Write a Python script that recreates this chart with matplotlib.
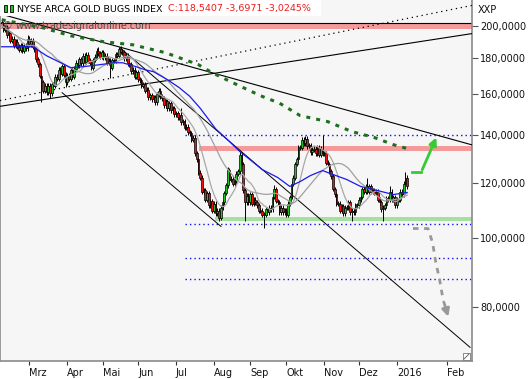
#!/usr/bin/env python3
# Wykres świecowy NYSE ARCA GOLD BUGS INDEX (luty 2015 - styczeń 2016) z liniami trendu.
import numpy as np
import pandas as pd
import matplotlib
matplotlib.use("Agg")
import matplotlib.pyplot as plt
from matplotlib.patches import Rectangle
from matplotlib.ticker import FixedLocator, NullLocator

W, H = 528, 379

# Kursy zamknięcia (sesje od początku lutego 2015).
CLOSE = [
    200.8, 197.5, 199.0, 194.0, 195.5, 190.5, 192.0, 187.5, 190.0, 187.0,
    185.0, 188.0, 184.5, 187.5, 186.0, 192.0, 188.5, 190.5, 187.0, 185.5,
    179.5, 176.5, 170.0, 166.5, 162.0, 164.5, 161.0, 164.5, 160.5, 165.5,
    164.5, 169.5, 168.5, 173.5, 171.0, 175.5, 170.5, 166.5, 170.0, 168.5,
    173.5, 169.5, 174.0, 177.5, 176.0, 179.5, 177.0, 181.5, 178.0, 182.0,
    178.5, 177.5, 174.5, 179.0, 181.0, 184.5, 183.0, 181.0, 183.5, 180.5,
    181.5, 177.5, 178.5, 174.5, 179.0, 178.5, 182.5, 181.5, 185.5, 184.0,
    183.5, 180.0, 181.5, 177.0, 176.5, 172.5, 173.5, 169.5, 172.0, 168.0,
    167.5, 164.5, 165.5, 162.0, 162.5, 158.5, 159.5, 157.5, 158.5, 156.0,
    160.0, 162.0, 159.0, 158.0, 154.5, 156.5, 153.0, 155.5, 152.0, 153.0,
    150.0, 150.5, 148.5, 149.5, 146.0, 146.5, 143.5, 144.0, 141.5, 141.0,
    138.0, 139.0, 132.0, 129.5, 124.0, 122.0, 116.5, 117.0, 113.5, 116.0,
    111.5, 113.0, 109.5, 112.0, 108.5, 109.5, 107.0, 110.5, 112.5, 116.0,
    119.0, 125.0, 121.0, 121.5, 119.5, 120.5, 123.5, 124.5, 131.5, 127.5,
    117.0, 112.5, 115.0, 112.5, 115.5, 112.0, 113.5, 112.5, 111.5, 109.5,
    109.5, 108.0, 108.0, 110.0, 109.0, 110.5, 110.0, 114.5, 117.5, 113.0,
    112.5, 109.0, 110.5, 109.0, 109.5, 108.0, 112.0, 114.5, 119.5, 122.0,
    127.5, 129.5, 134.5, 134.5, 138.0, 136.5, 138.5, 135.0, 135.5, 132.5,
    133.5, 134.0, 132.0, 134.5, 131.5, 134.0, 132.0, 132.0, 128.0, 127.5,
    124.5, 122.5, 117.5, 115.5, 112.0, 112.0, 109.5, 111.0, 108.5, 110.5,
    110.5, 112.5, 109.0, 109.5, 109.0, 111.5, 111.5, 113.5, 114.5, 117.5,
    116.5, 118.5, 116.5, 118.5, 116.5, 117.0, 116.0, 116.5, 113.5, 112.5,
    110.0, 110.5, 111.5, 114.0, 113.5, 116.5, 113.5, 114.5, 111.5, 113.5,
    113.5, 116.5, 115.5, 119.5, 122.0, 118.5407,
]
FIRST_OPEN = 202.5
# Wyraźne knoty (indeks sesji -> wartość).
HIGH_WICKS = {15: 194.4, 56: 186.9, 69: 187.5, 104: 153.2, 131: 126.3, 138: 133.1,
              158: 119.2, 176: 139.5, 186: 140.3, 212: 122.0, 225: 118.5, 234: 124.4}
LOW_WICKS = {23: 156.0, 28: 158.3, 37: 164.0, 63: 169.0, 126: 105.7, 141: 106.0,
             152: 103.6, 203: 105.7, 221: 105.7}
WICK_PAD = 0.008

# Średnia niebieska (punkty).
BLUE_IDX = [0, 9, 18, 26, 33, 40, 47, 57, 65, 70, 78, 83, 88, 96, 103, 109, 115, 119,
            124, 127, 132, 138, 144, 151, 160, 167, 173, 179, 186, 192, 200, 208, 218, 227, 235]
BLUE_VAL = [186.9, 186.9, 186.9, 181.5, 178.0, 174.6, 175.1, 176.3, 177.4, 177.4, 175.1,
            173.4, 172.3, 167.9, 163.5, 159.0, 153.0, 148.5, 143.0, 140.8, 137.2, 132.8,
            129.3, 125.2, 122.0, 118.5, 120.4, 122.8, 124.8, 123.2, 121.2, 118.5, 116.9,
            115.4, 116.2]
# Średnia 200-sesyjna (zielona kropkowana).
G200_IDX = [0, 24, 40, 59, 76, 95, 114, 122, 134, 150, 161, 173, 189, 203, 216, 227, 235]
G200_VAL = [204.1, 198.8, 193.7, 190.0, 188.1, 183.3, 176.3, 171.7, 166.2, 159.3, 155.5,
            149.3, 146.4, 141.7, 139.0, 135.8, 134.1]

# Linie trendu: (indeks0, wartość0, indeks1, wartość1).
LINE_DOWN_LONG = (-0.99, 208.1, 272.6, 135.7)
LINE_UP_SOLID = (-0.99, 153.9, 272.6, 195.1)
LINE_UP_DOTTED = (-0.99, 156.8, 272.6, 213.9)
LINE_CHANNEL_TOP = (68.6, 186.3, 271.5, 70.1)
LINE_CHANNEL_LOW = (35.0, 160.9, 127.1, 104.0)

# Poziomy.
BLUE_LEVELS = [140.0, 104.9, 93.9, 87.7]
BLUE_LEVEL_START = 106.3
RED_TOP = (198.0, 202.0)
RED_MID = (132.9, 135.1)
RED_MID_START = 114.4
GREEN_ZONE = (105.8, 107.3)
GREEN_START = 123.7

# Strzałki scenariuszy.
UP_ARROW_IDX = [237.7, 243.1, 252.6]
UP_ARROW_VAL = [124.1, 124.1, 140.2]
DOWN_ARROW_IDX = [238.4, 247.1, 249.8, 251.6, 253.8, 255.8, 259.3]
DOWN_ARROW_VAL = [103.3, 103.3, 98.5, 92.5, 87.5, 82.0, 76.8]

MONTH_IDX = [16, 38, 59, 79, 101, 123, 144, 165, 187, 207, 229, 258]
MONTH_LBL = ["Mrz", "Apr", "Mai", "Jun", "Jul", "Aug", "Sep", "Okt", "Nov", "Dez", "2016", "Feb"]
Y_TICKS = [80, 100, 120, 140, 160, 180, 200]

X_MIN, X_MAX = -0.99, 272.6

plt.rcParams["font.family"] = ["DejaVu Sans"]


def fx(x):
    return x / W


def fy(y):
    return 1 - y / H


def seg(ax, line, **kw):
    # Rysuje odcinek linii trendu.
    i0, v0, i1, v1 = line
    ax.plot([i0, i1], [v0, v1], **kw)


fig = plt.figure(figsize=(W / 100, H / 100), dpi=100)
fig.patch.set_facecolor("white")
ax = fig.add_axes([0, 18 / H, 472 / W, 361 / H])
ax.set_facecolor("#f6f6f6")
ax.set_yscale("log")
ax.set_xlim(X_MIN, X_MAX)
ax.set_ylim(67.05, 217.7)

# Strefy.
ax.fill_between([X_MIN, X_MAX], RED_TOP[0], RED_TOP[1], color="#f59a9a", lw=0, zorder=1)
ax.plot([X_MIN, X_MAX], [RED_TOP[1], RED_TOP[1]], color="black", lw=0.8, zorder=2)
ax.fill_between([RED_MID_START, X_MAX], RED_MID[0], RED_MID[1], color="#f59a9a", lw=0, zorder=1)
ax.fill_between([GREEN_START, X_MAX], GREEN_ZONE[0], GREEN_ZONE[1], color="#a6e0a0", lw=0, zorder=1)
for lvl in BLUE_LEVELS:
    ax.plot([BLUE_LEVEL_START, X_MAX], [lvl, lvl], color="#1010ee", lw=1.0,
            linestyle=(0, (1, 2.2)), zorder=2)

# Linie trendu.
seg(ax, LINE_DOWN_LONG, color="black", lw=0.8, zorder=3)
seg(ax, LINE_UP_SOLID, color="black", lw=0.8, zorder=3)
seg(ax, LINE_UP_DOTTED, color="black", lw=0.9, linestyle=(0, (1, 3)), zorder=3)
seg(ax, LINE_CHANNEL_TOP, color="black", lw=0.7, zorder=3)
seg(ax, LINE_CHANNEL_LOW, color="black", lw=0.7, zorder=3)

# Świece.
close = np.array(CLOSE)
opn = np.r_[FIRST_OPEN, close[:-1]]
hi = np.maximum(opn, close) * (1 + WICK_PAD)
lo = np.minimum(opn, close) * (1 - WICK_PAD)
for k, v in HIGH_WICKS.items():
    hi[k] = max(v, hi[k])
for k, v in LOW_WICKS.items():
    lo[k] = min(v, lo[k])
idx = np.arange(len(close))
up = close >= opn
ax.vlines(idx, lo, hi, color="black", lw=0.7, zorder=4)
bottom = np.minimum(opn, close)
height = np.maximum(np.abs(close - opn), bottom * 0.003)
ax.bar(idx, height, bottom=bottom, width=1.0, color=np.where(up, "#22c022", "#ee1111"),
       edgecolor="black", linewidth=0.5, zorder=5)

# Średnie kroczące.
s = pd.Series(close)
ax.plot(idx, s.rolling(10, min_periods=1).mean(), color="#a8a8a8", lw=0.9, zorder=6)
ax.plot(idx, s.rolling(30, min_periods=1).mean(), color="#a0a0a0", lw=0.9, zorder=6)
ax.plot(BLUE_IDX, BLUE_VAL, color="#1a1aee", lw=0.9, zorder=6)
ax.plot(G200_IDX, G200_VAL, color="#1e6e1e", lw=2.2, linestyle=(0, (1.3, 2.0)), zorder=6)

# Strzałki.
ax.plot(UP_ARROW_IDX[:2], UP_ARROW_VAL[:2], color="#33cc33", lw=2, zorder=7)
ax.annotate("", xy=(UP_ARROW_IDX[2], UP_ARROW_VAL[2]), xytext=(UP_ARROW_IDX[1], UP_ARROW_VAL[1]),
            arrowprops=dict(arrowstyle="-|>", color="#33cc33", lw=2, mutation_scale=11), zorder=7)
ax.plot(DOWN_ARROW_IDX[:-1], DOWN_ARROW_VAL[:-1], color="#999999", lw=2,
        linestyle=(0, (2, 2)), zorder=7)
ax.annotate("", xy=(DOWN_ARROW_IDX[-1], DOWN_ARROW_VAL[-1]),
            xytext=(DOWN_ARROW_IDX[-2], DOWN_ARROW_VAL[-2]),
            arrowprops=dict(arrowstyle="-|>", color="#999999", lw=2, mutation_scale=11), zorder=7)

# Osie.
ax.yaxis.tick_right()
ax.yaxis.set_major_locator(FixedLocator(Y_TICKS))
ax.yaxis.set_minor_locator(NullLocator())
ax.set_yticklabels([f"{v},0000" for v in Y_TICKS])
ax.tick_params(axis="y", direction="out", length=4, width=0.8, color="#555555",
               pad=2, labelsize=7, labelcolor="#111111")
ax.set_xticks(MONTH_IDX)
ax.set_xticklabels(MONTH_LBL, ha="left")
ax.tick_params(axis="x", direction="out", length=3, width=0.8, color="#333333",
               pad=2, labelsize=7, labelcolor="#111111")
for name in ["left", "right", "bottom"]:
    ax.spines[name].set_color("#8a8a8a")
    ax.spines[name].set_linewidth(1.2)
ax.spines["top"].set_visible(False)

# Znak wodny.
ax.text(fx(3) / (472 / W), 1 - 26 / 361, "\u00a9 www.tradesignalonline.com", transform=ax.transAxes,
        fontsize=7, color="#4e4e4e", va="center", ha="left", zorder=8)

# Nagłówek na białym tle.
fig.add_artist(Rectangle((0, fy(16)), fx(321), 16 / H, transform=fig.transFigure,
                         facecolor="white", edgecolor="none", zorder=10))
for x0 in (4, 10):
    fig.add_artist(Rectangle((fx(x0), fy(12)), fx(3), 7 / H, transform=fig.transFigure,
                             facecolor="#22c022", edgecolor="black", lw=0.6, zorder=11))
fig.text(fx(17), fy(9), "NYSE ARCA GOLD BUGS INDEX", fontsize=6.8, color="black",
         va="center", ha="left", zorder=12)
fig.text(fx(168), fy(9), "C:118,5407 -3,6971 -3,0245%", fontsize=6.8, color="#ee1c1c",
         va="center", ha="left", zorder=12)
fig.text(fx(478), fy(10), "XXP", fontsize=7, color="#111111", va="center", ha="left")

# Ikona w prawym dolnym rogu.
fig.add_artist(Rectangle((fx(463), fy(360)), fx(7), 7 / H, transform=fig.transFigure,
                         facecolor="white", edgecolor="#777777", lw=0.6, zorder=11))
fig.add_artist(plt.Line2D([fx(464), fx(469)], [fy(359), fy(354)], transform=fig.transFigure,
                          color="#555555", lw=0.6, zorder=12))

fig.savefig("out.png", dpi=100, facecolor="white")
